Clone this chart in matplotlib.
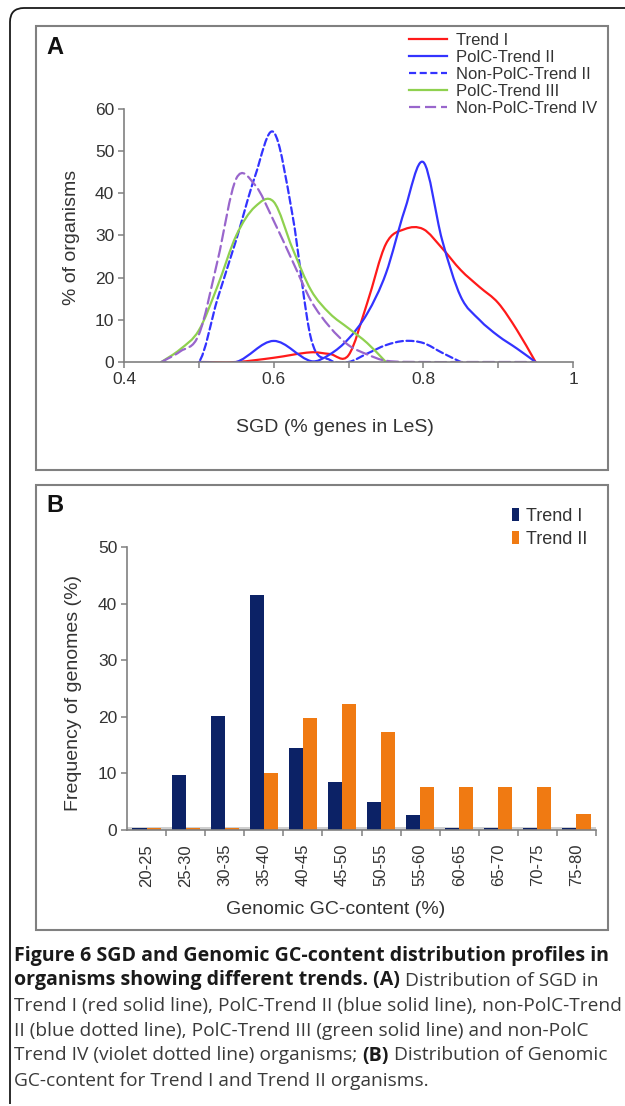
import numpy as np
import matplotlib
matplotlib.use('Agg')
import matplotlib.pyplot as plt
from matplotlib.path import Path
from matplotlib.patches import PathPatch, Rectangle
from matplotlib.lines import Line2D
from matplotlib.ticker import FixedLocator, NullFormatter

W, H = 625, 1106
plt.rcParams['font.family'] = ['Liberation Sans', 'DejaVu Sans']

# ---- panel A: SGD distribution ----
trend_i_x = [0.50, 0.55, 0.60, 0.65, 0.675, 0.70, 0.725, 0.75, 0.775, 0.80,
             0.825, 0.85, 0.875, 0.90, 0.925, 0.95]
trend_i_y = [0.0, 0.0, 1.0, 2.3, 1.9, 1.6, 14.0, 28.0, 31.5, 31.5,
             27.0, 21.8, 17.8, 14.0, 7.6, 0.0]

polc_ii_x = [0.50, 0.55, 0.60, 0.65, 0.675, 0.70, 0.725, 0.75, 0.775, 0.80,
             0.825, 0.85, 0.875, 0.90, 0.925, 0.95]
polc_ii_y = [0.0, 0.0, 5.0, 0.2, 1.8, 5.5, 11.5, 21.0, 36.0, 47.4,
             29.0, 15.5, 10.0, 6.2, 3.2, 0.0]

npolc_ii_x = [0.45, 0.50, 0.525, 0.55, 0.575, 0.60, 0.625, 0.65, 0.675, 0.70,
              0.725, 0.75, 0.775, 0.80, 0.825, 0.85]
npolc_ii_y = [0.0, 0.0, 15.0, 29.0, 44.0, 54.5, 35.0, 5.5, 0.5, 0.0,
              2.0, 4.0, 5.0, 4.5, 2.2, 0.0]

polc_iii_x = [0.45, 0.475, 0.50, 0.525, 0.55, 0.575, 0.60, 0.625, 0.65, 0.675,
              0.70, 0.725, 0.75]
polc_iii_y = [0.0, 3.0, 7.5, 18.0, 30.0, 36.8, 38.0, 27.0, 17.0, 11.5,
              8.0, 4.5, 0.0]

npolc_iv_x = [0.45, 0.475, 0.50, 0.525, 0.55, 0.575, 0.60, 0.625, 0.65, 0.675,
              0.70, 0.725, 0.75, 0.80, 0.85, 0.90, 0.95]
npolc_iv_y = [0.0, 2.5, 6.5, 24.0, 43.5, 42.0, 33.5, 24.0, 14.5, 8.3,
              4.0, 1.8, 0.3, 0.0, 0.0, 0.0, 0.0]

series_a = [
    ('Trend I', trend_i_x, trend_i_y, '#ff1a1a', '-'),
    ('PolC-Trend II', polc_ii_x, polc_ii_y, '#3333ff', '-'),
    ('Non-PolC-Trend II', npolc_ii_x, npolc_ii_y, '#3333ff', (0, (3.2, 1.6))),
    ('PolC-Trend III', polc_iii_x, polc_iii_y, '#8fd14f', '-'),
    ('Non-PolC-Trend IV', npolc_iv_x, npolc_iv_y, '#9966cc', (0, (5, 2.2))),
]

# ---- panel B: genomic GC-content ----
gc_bins = ['20-25', '25-30', '30-35', '35-40', '40-45', '45-50',
           '50-55', '55-60', '60-65', '65-70', '70-75', '75-80']
freq_trend_i  = [0.3, 9.7, 20.2, 41.5, 14.5, 8.5, 5.0, 2.7, 0.3, 0.3, 0.3, 0.3]
freq_trend_ii = [0.3, 0.3, 0.3, 10.0, 19.8, 22.2, 17.3, 7.6, 7.6, 7.6, 7.6, 2.8]


def fx(x):
    return x / W


def fy(y):
    return 1 - y / H


def smooth_path(xs, ys):
    # Excel-like smoothed line: cubic Bezier through the points
    pts = np.column_stack([xs, ys]).astype(float)
    n = len(pts)
    verts, codes = [pts[0]], [Path.MOVETO]
    for i in range(n - 1):
        p0 = pts[i - 1] if i > 0 else pts[i]
        p1, p2 = pts[i], pts[i + 1]
        p3 = pts[i + 2] if i + 2 < n else pts[i + 1]
        # scale tangents to the local spacing so uneven steps don't overshoot
        h = p2[0] - p1[0]
        t1 = (p2 - p0) / (p2[0] - p0[0]) * h if p2[0] != p0[0] else p2 - p1
        t2 = (p3 - p1) / (p3[0] - p1[0]) * h if p3[0] != p1[0] else p2 - p1
        verts += [p1 + t1 / 3, p2 - t2 / 3, p2]
        codes += [Path.CURVE4] * 3
    return Path(verts, codes)


fig = plt.figure(figsize=(W / 100, H / 100), dpi=100)
txt = '#333333'
spine_c = '#808080'

# outer frame (left + top, rounded corner)
r = 14
frame = Path([(fx(10), fy(1104)), (fx(10), fy(8 + r)), (fx(10), fy(8)),
              (fx(10 + r), fy(8)), (fx(W + 2), fy(8))],
             [Path.MOVETO, Path.LINETO, Path.CURVE3, Path.CURVE3, Path.LINETO])
fig.add_artist(PathPatch(frame, fill=False, lw=1.3, ec='#1a1a1a', transform=fig.transFigure))

# panel boxes
for (x0, y0, x1, y1) in [(36, 26, 608, 470), (36, 485, 608, 930)]:
    fig.add_artist(Rectangle((fx(x0), fy(y1)), (x1 - x0) / W, (y1 - y0) / H, fill=False,
                             ec=spine_c, lw=1.5, transform=fig.transFigure))

# ---------------- panel A ----------------
axA = fig.add_axes([fx(124), fy(362), 449 / W, 253 / H])
axA.set_xlim(0.4, 1.0)
axA.set_ylim(0, 60)
for name, xs, ys, col, ls in series_a:
    axA.add_patch(PathPatch(smooth_path(xs, ys), fill=False, ec=col, lw=1.6, ls=ls,
                            capstyle='round', joinstyle='round'))
axA.xaxis.set_major_locator(FixedLocator([0.4, 0.6, 0.8, 1.0]))
axA.xaxis.set_minor_locator(FixedLocator([0.5, 0.7, 0.9]))
axA.set_xticklabels(['0.4', '0.6', '0.8', '1'])
axA.set_yticks(range(0, 61, 10))
for s in ['top', 'right']:
    axA.spines[s].set_visible(False)
for s in ['left', 'bottom']:
    axA.spines[s].set_color(spine_c)
    axA.spines[s].set_linewidth(1.2)
axA.tick_params(which='both', direction='out', length=4, width=1.1, color=spine_c,
                labelsize=12.5, labelcolor=txt, pad=3)
axA.patch.set_alpha(0)

handles = [Line2D([], [], color=s[3], lw=1.6, ls=s[4]) for s in series_a]
fig.legend(handles, [s[0] for s in series_a], loc='upper left',
           bbox_to_anchor=(fx(409), fy(33)), frameon=False, fontsize=12,
           handlelength=2.3, handletextpad=0.5, labelspacing=0.12,
           borderpad=0, borderaxespad=0, labelcolor=txt)

fig.text(fx(72), fy(237), '% of organisms', rotation=90, ha='center', va='center',
         fontsize=14, color=txt)
fig.text(fx(335), fy(427), 'SGD (% genes in LeS)', ha='center', va='center',
         fontsize=14, color=txt)
fig.text(fx(46), fy(47), 'A', ha='left', va='center', fontsize=17, fontweight='bold',
         color='#111111')

# ---------------- panel B ----------------
axB = fig.add_axes([fx(127), fy(830), 469 / W, 283 / H])
idx = np.arange(len(gc_bins))
bw = 0.36
axB.axhspan(0, 0.45, color='#cfcfcf', zorder=0.5, lw=0)
axB.bar(idx - bw / 2, freq_trend_i, width=bw, color='#0c2266', zorder=2, label='Trend I')
axB.bar(idx + bw / 2, freq_trend_ii, width=bw, color='#f07a12', zorder=2, label='Trend II')
axB.set_xlim(-0.5, len(gc_bins) - 0.5)
axB.set_ylim(0, 50)
axB.set_yticks(range(0, 51, 10))
axB.xaxis.set_major_locator(FixedLocator(idx + 0.5))
axB.xaxis.set_major_formatter(NullFormatter())
axB.xaxis.set_minor_locator(FixedLocator(idx))
axB.set_xticklabels(gc_bins, minor=True, rotation=90)
for s in ['top', 'right']:
    axB.spines[s].set_visible(False)
for s in ['left', 'bottom']:
    axB.spines[s].set_color(spine_c)
    axB.spines[s].set_linewidth(1.2)
axB.tick_params(which='both', direction='out', length=4, width=1.1, color=spine_c,
                labelsize=12.5, labelcolor=txt, pad=3)
axB.tick_params(axis='x', which='minor', length=0, labelsize=12, pad=10)
axB.patch.set_alpha(0)

fig.legend(*axB.get_legend_handles_labels(), loc='upper left',
           bbox_to_anchor=(fx(512), fy(508)), frameon=False, fontsize=13,
           handlelength=0.4, handleheight=0.75, handletextpad=0.35, labelspacing=0.32,
           borderpad=0, borderaxespad=0, labelcolor=txt)

fig.text(fx(74), fy(693), 'Frequency of genomes (%)', rotation=90, ha='center', va='center',
         fontsize=14, color=txt)
fig.text(fx(336), fy(910), 'Genomic GC-content (%)', ha='center', va='center',
         fontsize=14, color=txt)
fig.text(fx(46), fy(506), 'B', ha='left', va='center', fontsize=17, fontweight='bold',
         color='#111111')

# ---------------- caption ----------------
caption = [
    [('Figure 6 SGD and Genomic GC-content distribution profiles in', True)],
    [('organisms showing different trends.', True), (' (A)', True),
     (' Distribution of SGD in', False)],
    [('Trend I (red solid line), PolC-Trend II (blue solid line), non-PolC-Trend', False)],
    [('II (blue dotted line), PolC-Trend III (green solid line) and non-PolC', False)],
    [('Trend IV (violet dotted line) organisms; ', False), ('(B)', True),
     (' Distribution of Genomic', False)],
    [('GC-content for Trend I and Trend II organisms.', False)],
]
renderer = fig.canvas.get_renderer()


def fit_size(s, bold, target):
    probe = fig.text(0, 0, s, fontsize=10, family='Open Sans',
                     fontweight='bold' if bold else 'normal')
    w = probe.get_window_extent(renderer).width
    probe.remove()
    return 10 * target / w


fs_reg = fit_size(caption[2][0][0], False, 605)
fs_bold = fit_size(caption[0][0][0], True, 596)

for k, line in enumerate(caption):
    x = 14
    yb = 955 + 25 * k + 5.5
    for seg, bold in line:
        t = fig.text(fx(x), fy(yb), seg, fontsize=fs_bold if bold else fs_reg,
                     family='Open Sans', fontweight='bold' if bold else 'normal',
                     color='#1a1a1a' if bold else '#3a3a3a', ha='left', va='baseline')
        x += t.get_window_extent(renderer).width

fig.savefig('out.png', dpi=100)
